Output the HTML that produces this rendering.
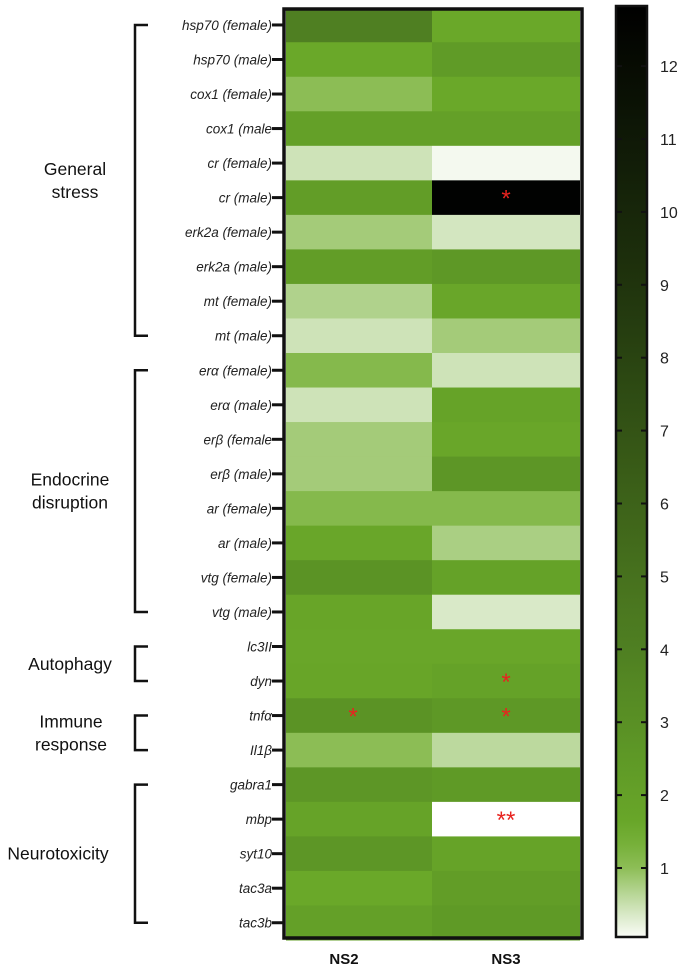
<!DOCTYPE html>
<html><head><meta charset="utf-8"><style>
body{margin:0;background:#fff;width:685px;height:975px;overflow:hidden}
svg text{font-family:"Liberation Sans",sans-serif}
</style></head><body>
<svg id="chart" width="685" height="975">
<defs>
<linearGradient id="cbgrad" x1="0" y1="1" x2="0" y2="0"></linearGradient>
</defs>
<g id="cells"></g><g id="rowlabels"></g><g id="groups"></g><g id="stars"></g><g id="cbar"></g>
</svg>
<script>
const genes=["hsp70 (female)","hsp70 (male)","cox1 (female)","cox1 (male","cr (female)","cr (male)","erk2a (female)","erk2a (male)","mt (female)","mt (male)","erα (female)","erα (male)","erβ (female","erβ (male)","ar (female)","ar (male)","vtg (female)","vtg (male)","lc3II","dyn","tnfα","Il1β","gabra1","mbp","syt10","tac3a","tac3b"];
const columns=["NS2","NS3"];
const ns2Values=[4.0,1.5,1.0,2.0,0.45,2.2,0.8,2.2,0.7,0.45,1.1,0.45,0.8,0.8,1.1,1.6,2.8,1.7,1.6,1.7,2.8,1.0,2.6,1.8,2.6,1.5,2.0];
const ns3Values=[1.5,2.3,1.5,2.0,0.1,12.6,0.4,2.5,1.6,0.8,0.45,1.8,1.6,2.6,1.1,0.75,1.9,0.35,1.6,1.9,2.5,0.6,2.4,0.0,1.8,2.2,2.4];
const ns2Stars=["","","","","","","","","","","","","","","","","","","","","*","","","","","",""];
const ns3Stars=["","","","","","*","","","","","","","","","","","","","","*","*","","","**","","",""];
const groupNames=[["General","stress"],["Endocrine","disruption"],["Autophagy"],["Immune","response"],["Neurotoxicity"]];
const groupStart=[0,10,18,20,22];
const groupEnd=[9,17,19,21,26];
const groupLabelX=[75,70,70,71,58];
const cbTicks=[1,2,3,4,5,6,7,8,9,10,11,12];
const cbMin=0.05,cbMax=12.75;

const NS="http://www.w3.org/2000/svg";
function mk(tag,attrs,parent){const e=document.createElementNS(NS,tag);for(const k in attrs)e.setAttribute(k,attrs[k]);parent.appendChild(e);return e;}
const top0=7.7,rowH=(940-7.7)/genes.length;
const colX=[286,432],colW=[146,148];
function rowY(i){return top0+i*rowH;}
const stops=[[0,[255,255,255]],[0.5,[200,224,176]],[1,[140,189,85]],[1.5,[106,168,41]],[2.5,[94,152,38]],[4,[79,127,34]],[6,[61,98,25]],[9,[31,51,13]],[12.75,[0,0,0]]];
function color(v){if(v<=stops[0][0])return "rgb(255,255,255)";for(let i=1;i<stops.length;i++){if(v<=stops[i][0]){const a=stops[i-1],b=stops[i],t=(v-a[0])/(b[0]-a[0]);const c=a[1].map((x,j)=>Math.round(x+(b[1][j]-x)*t));return `rgb(${c})`;}}return "rgb(0,0,0)";}
const cells=document.getElementById('cells');
const series=[ns2Values,ns3Values],starSets=[ns2Stars,ns3Stars];
const starG=document.getElementById('stars');
for(let c=0;c<2;c++){for(let i=0;i<genes.length;i++){
 const r=mk('rect',{x:colX[c],y:rowY(i),width:colW[c],height:rowH+0.5,fill:color(series[c][i])},cells);
 
 
 if(starSets[c][i]){const t=mk('text',{x:colX[c]+colW[c]/2+(c==0?-6:0),y:rowY(i)+rowH/2+9,'text-anchor':'middle','font-size':24,fill:'#e8231f'},starG);t.textContent=starSets[c][i];
 
 }
}}
const frame=mk('rect',{x:284,y:9,width:298,height:929,fill:'none',stroke:'#111','stroke-width':3.5},cells);


const rl=document.getElementById('rowlabels');
genes.forEach((g,i)=>{const cy=rowY(i)+rowH/2;
 const t=mk('text',{x:272,y:cy+5,'text-anchor':'end','font-size':13.5,'font-style':'italic',fill:'#222'},rl);t.textContent=g;
 
 
 mk('line',{x1:272,x2:285,y1:cy,y2:cy,stroke:'#111','stroke-width':3},rl);});
columns.forEach((c,j)=>{const t=mk('text',{x:colX[j]+colW[j]/2-(j==0?15:0),y:964,'text-anchor':'middle','font-size':15,'font-weight':'bold',fill:'#111'},rl);t.textContent=c;
 
 });
const gg=document.getElementById('groups');
groupNames.forEach((n,k)=>{const y1=rowY(groupStart[k])+rowH/2,y2=rowY(groupEnd[k])+rowH/2;
 const p=mk('path',{d:`M148 ${y1}H135V${y2}H148`,fill:'none',stroke:'#111','stroke-width':2.5},gg);
 
 
 const mid=(y1+y2)/2;
 n.forEach((line,li)=>{const t=mk('text',{x:groupLabelX[k],y:mid+6+(li-(n.length-1)/2)*23,'text-anchor':'middle','font-size':17.5,fill:'#111'},gg);t.textContent=line;
 
 });});
// colorbar
const cb=document.getElementById('cbar');
const cbTop=6,cbBot=937;
function cbY(v){return 868-(v-1)*72.9;}
const grad=document.getElementById('cbgrad');
for(let s=0;s<=40;s++){const v=cbMin+(cbMax-cbMin)*s/40;mk('stop',{offset:(s/40),'stop-color':color(v)},grad);}
const bar=mk('rect',{x:616,y:cbTop,width:31,height:cbBot-cbTop,fill:'url(#cbgrad)',stroke:'#111','stroke-width':2.5},cb);


cbTicks.forEach(v=>{const y=cbY(v);
 mk('line',{x1:617,x2:622,y1:y,y2:y,stroke:'#111','stroke-width':2},cb);
 mk('line',{x1:641,x2:646,y1:y,y2:y,stroke:'#111','stroke-width':2},cb);
 const t=mk('text',{x:660,y:y+6,'font-size':16,fill:'#222'},cb);t.textContent=v;
 
 });
</script>
</body></html>
